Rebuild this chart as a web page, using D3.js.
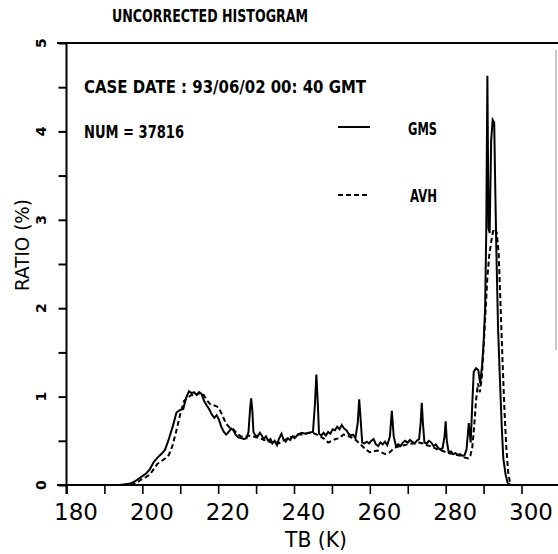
<!DOCTYPE html>
<html>
<head>
<meta charset="utf-8">
<script src="https://cdn.jsdelivr.net/npm/d3@7"></script>
<style>
  body { margin: 0; background: #fff; }
  svg { display: block; }
</style>
</head>
<body>
<script>
var width = 558, height = 554;

// tick values
var xTicks = [180, 190, 200, 210, 220, 230, 240, 250, 260, 270, 280, 290, 300];
var xLabels = [180, 200, 220, 240, 260, 280, 300];
var yTicks = [0, 0.5, 1, 1.5, 2, 2.5, 3, 3.5, 4, 4.5, 5];
var yLabels = [0, 1, 2, 3, 4, 5];

// GMS (solid)
var gmsTb = [180, 190, 194, 196, 197, 198, 199, 200, 201, 202, 203, 204, 205, 206, 207, 208, 209, 210, 210.8, 211.5, 212.3, 213, 213.6, 214.3, 215, 215.6, 216.3, 217, 217.6, 218.3, 219, 219.6, 220.2, 220.8, 221.5, 222.1, 222.8, 223.4, 224, 224.6, 225.3, 226, 226.8, 227.5, 228, 228.4, 228.7, 229, 229.3, 229.8, 230.4, 231, 231.5, 232, 232.6, 233.2, 233.8, 234.3, 234.9, 235.5, 236, 236.7, 237.2, 237.8, 238.4, 239, 239.6, 240.2, 241, 242, 243, 244, 245, 245.5, 245.9, 246.3, 246.6, 247.2, 247.8, 248.4, 249, 249.6, 250.2, 250.8, 251.4, 252, 252.6, 253.2, 253.8, 254.4, 255, 255.6, 256.2, 256.8, 257.2, 257.6, 258, 258.6, 259.2, 259.8, 260.4, 261, 261.6, 262.2, 262.8, 263.4, 264, 264.6, 265.3, 265.8, 266.3, 266.9, 267.5, 268.1, 268.7, 269.3, 270, 270.6, 271.2, 271.8, 272.4, 273, 273.4, 273.7, 274, 274.4, 275, 275.6, 276.2, 276.8, 277.4, 278, 278.6, 279.2, 279.7, 280, 280.3, 280.8, 281.4, 282, 282.6, 283.2, 283.8, 284.4, 285, 285.5, 286.1, 286.6, 287, 287.4, 288, 288.6, 289.1, 289.6, 290, 290.4, 290.7, 291, 291.3, 291.6, 292, 292.4, 292.8, 293.1, 293.4, 293.8, 294.3, 294.8, 295.2, 295.8, 296.3, 297, 300, 310];
var gmsRatio = [0, 0, 0, 0.01, 0.02, 0.04, 0.07, 0.1, 0.13, 0.18, 0.26, 0.31, 0.35, 0.4, 0.52, 0.66, 0.82, 0.85, 0.86, 0.98, 1.06, 1.04, 1.05, 1.02, 1.05, 1.03, 0.95, 0.9, 0.86, 0.8, 0.76, 0.79, 0.74, 0.66, 0.6, 0.57, 0.6, 0.64, 0.62, 0.57, 0.54, 0.53, 0.52, 0.53, 0.6, 0.85, 0.98, 0.85, 0.6, 0.56, 0.55, 0.59, 0.56, 0.52, 0.55, 0.5, 0.52, 0.47, 0.5, 0.45, 0.52, 0.58, 0.52, 0.49, 0.53, 0.51, 0.55, 0.53, 0.57, 0.59, 0.58, 0.59, 0.6, 0.9, 1.25, 0.9, 0.58, 0.56, 0.59, 0.56, 0.6, 0.58, 0.63, 0.62, 0.66, 0.63, 0.68, 0.64, 0.62, 0.58, 0.56, 0.57, 0.53, 0.7, 0.97, 0.72, 0.48, 0.47, 0.49, 0.47, 0.5, 0.52, 0.46, 0.44, 0.48, 0.46, 0.49, 0.45, 0.55, 0.84, 0.55, 0.44, 0.46, 0.44, 0.48, 0.5, 0.48, 0.51, 0.49, 0.47, 0.5, 0.52, 0.7, 0.93, 0.7, 0.48, 0.47, 0.5, 0.48, 0.44, 0.46, 0.42, 0.4, 0.42, 0.55, 0.72, 0.5, 0.37, 0.38, 0.35, 0.36, 0.34, 0.35, 0.33, 0.34, 0.4, 0.7, 0.48, 0.9, 1.28, 1.32, 1.3, 1.15, 1.35, 1.6, 2.0, 2.85, 4.63, 2.9, 2.85, 3.9, 4.13, 4.1, 3.3, 2.6, 1.8, 1.2, 0.65, 0.3, 0.12, 0.03, 0, 0, 0];

// AVH (dashed)
var avhTb = [180, 196, 198, 199, 200, 201, 202, 203, 204, 205, 206, 207, 208, 209, 210, 211, 212, 213, 214, 215, 216, 217, 218, 219, 220, 221, 222, 223, 224, 225, 226, 227, 228, 229, 230, 231, 232, 233, 234, 235, 236, 237, 238, 239, 240, 241, 242, 243, 244, 245, 246, 247, 248, 249, 250, 251, 252, 253, 254, 255, 256, 257, 258, 259, 260, 261, 262, 263, 264, 265, 266, 267, 268, 269, 270, 271, 272, 273, 274, 275, 276, 277, 278, 279, 280, 281, 282, 283, 284, 285, 286, 286.5, 287, 287.5, 288, 288.5, 289, 289.5, 290, 290.5, 291, 291.5, 292, 292.5, 293, 293.5, 294, 294.5, 295, 295.5, 296, 296.5, 297, 297.5, 310];
var avhRatio = [0, 0, 0.02, 0.04, 0.07, 0.09, 0.12, 0.18, 0.24, 0.27, 0.3, 0.34, 0.45, 0.62, 0.8, 0.95, 0.99, 1.02, 1.01, 1.04, 1.03, 0.96, 0.91, 0.9, 0.88, 0.8, 0.7, 0.65, 0.63, 0.58, 0.55, 0.54, 0.56, 0.55, 0.54, 0.53, 0.51, 0.5, 0.48, 0.49, 0.47, 0.5, 0.52, 0.54, 0.55, 0.57, 0.57, 0.58, 0.59, 0.59, 0.57, 0.55, 0.52, 0.48, 0.5, 0.52, 0.53, 0.57, 0.56, 0.54, 0.52, 0.48, 0.44, 0.4, 0.37, 0.38, 0.39, 0.37, 0.35, 0.36, 0.4, 0.43, 0.44, 0.45, 0.46, 0.47, 0.47, 0.48, 0.47, 0.45, 0.44, 0.42, 0.4, 0.39, 0.37, 0.36, 0.35, 0.34, 0.33, 0.31, 0.3, 0.33, 0.42, 0.65, 0.95, 1.15, 1.05, 1.2, 1.55, 1.95, 2.35, 2.6, 2.75, 2.87, 2.9, 2.85, 2.6, 2.0, 1.4, 0.85, 0.42, 0.14, 0.02, 0, 0];

var x = d3.scaleLinear().domain([180, 300]).range([66.5, 521.5]);
var y = d3.scaleLinear().domain([0, 5]).range([485, 43]);

var svg = d3.select("body").append("svg")
    .attr("width", width)
    .attr("height", height);

// scan artefact on the right border
svg.append("line")
    .attr("x1", 556).attr("x2", 556).attr("y1", 50).attr("y2", 350)
    .attr("stroke", "#c8c8c8").attr("stroke-width", 2);

// frame: top line and baseline
svg.append("line")
    .attr("x1", 57).attr("x2", width).attr("y1", y(5)).attr("y2", y(5))
    .attr("stroke", "#000").attr("stroke-width", 2);
svg.append("line")
    .attr("x1", 57).attr("x2", width).attr("y1", y(0)).attr("y2", y(0))
    .attr("stroke", "#000").attr("stroke-width", 2);

// x axis
var xAxis = d3.axisBottom(x)
    .tickValues(xTicks)
    .tickSize(9)
    .tickFormat(function(d) { return xLabels.indexOf(d) >= 0 ? d : ""; });

var gx = svg.append("g")
    .attr("transform", "translate(0," + y(0) + ")")
    .call(xAxis);
gx.select(".domain").remove();
gx.selectAll(".tick line").attr("stroke", "#000").attr("stroke-width", 1.6);
gx.selectAll(".tick text")
    .attr("y", 35)
    .attr("dx", 9)
    .attr("dy", 0)
    .style("font-family", "DejaVu Sans")
    .style("font-size", "23px")
    .attr("fill", "#000");

// y axis
var yAxis = d3.axisLeft(y)
    .tickValues(yTicks)
    .tickSize(8)
    .tickFormat("");

var gy = svg.append("g")
    .attr("transform", "translate(" + x(180) + ",0)")
    .call(yAxis);
gy.select(".domain").attr("stroke", "#000").attr("stroke-width", 2)
    .attr("d", "M0," + (y(5)) + "V" + (y(0) + 9));
gy.selectAll(".tick line").attr("stroke", "#000").attr("stroke-width", 2);

svg.selectAll(".ylab")
    .data(yLabels)
    .enter()
    .append("text")
    .attr("class", "ylab")
    .attr("transform", function(d) { return "translate(46," + y(d) + ") rotate(-90)"; })
    .attr("text-anchor", "middle")
    .style("font-family", "DejaVu Sans")
    .style("font-weight", "bold")
    .style("font-size", "14px")
    .text(function(d) { return d; });

// axis titles
svg.append("text")
    .attr("transform", "translate(29,245) rotate(-90)")
    .attr("text-anchor", "middle")
    .attr("textLength", 92)
    .attr("lengthAdjust", "spacingAndGlyphs")
    .style("font-family", "DejaVu Sans")
    .style("font-size", "20px")
    .text("RATIO (%)");

svg.append("text")
    .attr("x", 285).attr("y", 547)
    .attr("textLength", 62)
    .attr("lengthAdjust", "spacingAndGlyphs")
    .style("font-family", "DejaVu Sans")
    .style("font-size", "22px")
    .text("TB  (K)");

// title and annotations
function label(txt, x0, y0, len, size) {
  svg.append("text")
      .attr("x", x0).attr("y", y0)
      .attr("textLength", len)
      .attr("lengthAdjust", "spacingAndGlyphs")
      .style("font-family", "DejaVu Sans")
      .style("font-weight", "bold")
      .style("font-size", size + "px")
      .text(txt);
}
label("UNCORRECTED HISTOGRAM", 112, 22, 196, 17);
label("CASE DATE :  93/06/02 00: 40 GMT", 84, 93, 282, 17);
label("NUM = 37816", 84, 138, 100, 17);
label("GMS", 408, 135, 29, 17);
label("AVH", 410, 202, 27, 17);

// legend samples
svg.append("line")
    .attr("x1", 338).attr("x2", 370).attr("y1", 127).attr("y2", 127)
    .attr("stroke", "#000").attr("stroke-width", 2);
svg.append("line")
    .attr("x1", 338).attr("x2", 370).attr("y1", 195).attr("y2", 195)
    .attr("stroke", "#000").attr("stroke-width", 2)
    .attr("stroke-dasharray", "5,3");

// curves
var line = d3.line()
    .x(function(d) { return x(d[0]); })
    .y(function(d) { return y(d[1]); });

svg.append("path")
    .datum(d3.zip(avhTb, avhRatio))
    .attr("d", line)
    .attr("fill", "none")
    .attr("stroke", "#000")
    .attr("stroke-width", 2)
    .attr("stroke-dasharray", "5,3");

svg.append("path")
    .datum(d3.zip(gmsTb, gmsRatio))
    .attr("d", line)
    .attr("fill", "none")
    .attr("stroke", "#000")
    .attr("stroke-width", 2);
</script>
</body>
</html>
